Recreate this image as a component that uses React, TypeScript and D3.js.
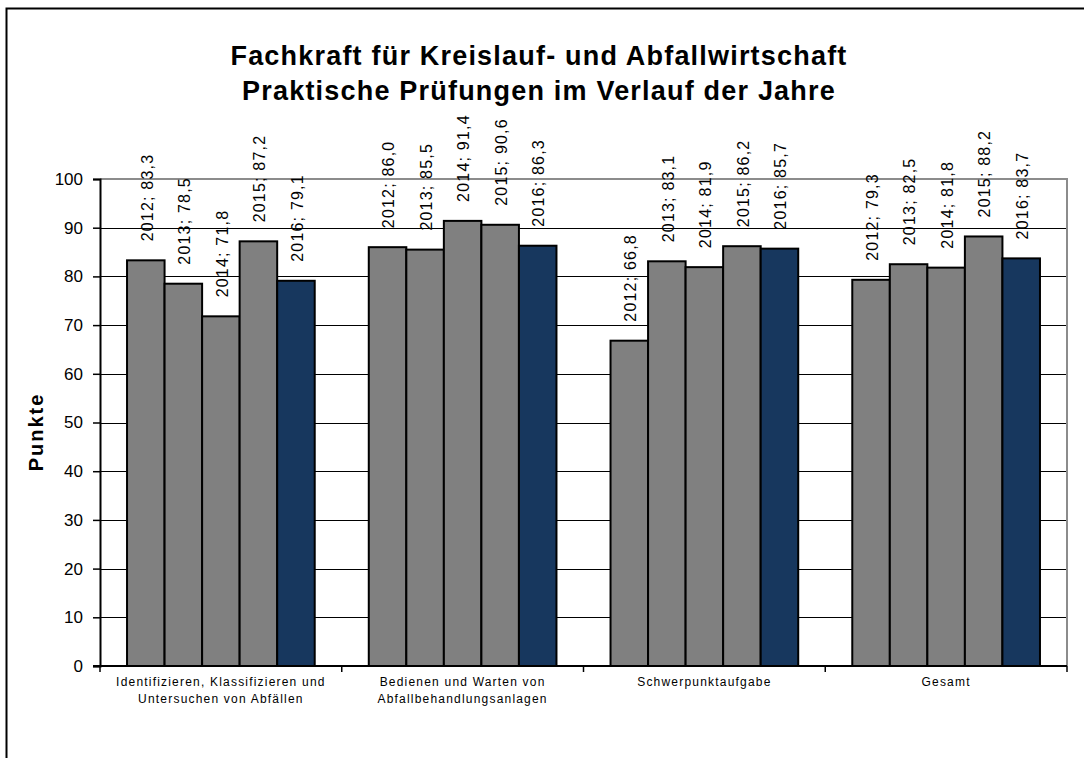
import * as d3 from "d3";
import { useEffect, useRef } from "react";

const categories = [
  ["Identifizieren, Klassifizieren und", "Untersuchen von Abfällen"],
  ["Bedienen und Warten von", "Abfallbehandlungsanlagen"],
  ["Schwerpunktaufgabe"],
  ["Gesamt"],
];
const years = ["2012", "2013", "2014", "2015", "2016"];
const values2012 = [83.3, 86.0, 66.8, 79.3];
const values2013 = [78.5, 85.5, 83.1, 82.5];
const values2014 = [71.8, 91.4, 81.9, 81.8];
const values2015 = [87.2, 90.6, 86.2, 88.2];
const values2016 = [79.1, 86.3, 85.7, 83.7];
const yTicks = [0, 10, 20, 30, 40, 50, 60, 70, 80, 90, 100];

const seriesValues = [values2012, values2013, values2014, values2015, values2016];

export default function App() {
  const svgRef = useRef<SVGSVGElement | null>(null);

  useEffect(() => {
    const width = 1084;
    const height = 758;
    const left = 100;
    const right = 1067;
    const top = 179;
    const bottom = 666;

    const svg = d3.select(svgRef.current);
    svg.selectAll("*").remove();
    const font = "'Liberation Sans', Arial, sans-serif";

    // outer frame (only top and left edges fall inside the picture)
    svg
      .append("rect")
      .attr("x", 6.5)
      .attr("y", 8.5)
      .attr("width", width + 20)
      .attr("height", height + 20)
      .attr("fill", "#fff")
      .attr("stroke", "#000")
      .attr("stroke-width", 2);

    // title
    const title = svg
      .append("text")
      .attr("text-anchor", "middle")
      .style("font-family", font)
      .style("font-weight", "bold")
      .style("font-size", "27px")
      .style("letter-spacing", "1.2px");
    title.append("tspan").attr("x", 539).attr("y", 65).text("Fachkraft für Kreislauf- und Abfallwirtschaft");
    title.append("tspan").attr("x", 539).attr("y", 100).text("Praktische Prüfungen im Verlauf der Jahre");

    const y = d3.scaleLinear().domain([0, 100]).range([bottom, top]);
    const x0 = d3
      .scaleBand<number>()
      .domain(categories.map((_, i) => i))
      .range([left, right]);
    const x1 = d3
      .scaleBand<string>()
      .domain(years)
      .range([0, x0.bandwidth()])
      .paddingInner(0)
      .paddingOuter(0.72);

    // gridlines
    svg
      .append("g")
      .selectAll("line")
      .data(yTicks.filter((t) => t > 0 && t < 100))
      .join("line")
      .attr("x1", left)
      .attr("x2", right)
      .attr("y1", (d) => Math.round(y(d)) + 0.5)
      .attr("y2", (d) => Math.round(y(d)) + 0.5)
      .attr("stroke", "#000")
      .attr("stroke-width", 1);

    // plot frame top/right (gray)
    svg
      .append("path")
      .attr("d", `M${left},${top} H${right} V${bottom}`)
      .attr("fill", "none")
      .attr("stroke", "#8c8c8c")
      .attr("stroke-width", 2);

    // bars
    const groups = svg
      .append("g")
      .selectAll("g")
      .data(categories.map((_, i) => i))
      .join("g")
      .attr("transform", (i) => `translate(${x0(i)},0)`);

    groups
      .selectAll("rect")
      .data((i) => years.map((yr, s) => ({ yr, s, v: seriesValues[s][i] })))
      .join("rect")
      .attr("x", (d) => x1(d.yr)!)
      .attr("y", (d) => y(d.v))
      .attr("width", x1.bandwidth())
      .attr("height", (d) => bottom - y(d.v))
      .attr("fill", (d) => (d.s === 4 ? "#17375e" : "#808080"))
      .attr("stroke", "#000")
      .attr("stroke-width", 2);

    // data labels
    groups
      .selectAll("text")
      .data((i) => years.map((yr, s) => ({ yr, s, v: seriesValues[s][i] })))
      .join("text")
      .attr(
        "transform",
        (d) => `translate(${x1(d.yr)! + x1.bandwidth() / 2 + 1},${y(d.v) - 19}) rotate(-90)`
      )
      .attr("dy", "0.36em")
      .style("font-family", font)
      .style("font-size", "16px")
      .style("letter-spacing", "1.2px")
      .attr("fill", "#000")
      .text((d) => `${d.yr}; ${d3.format(".1f")(d.v).replace(".", ",")}`);

    // y axis
    const yAxis = svg
      .append("g")
      .attr("transform", `translate(${left},0)`)
      .call(
        d3
          .axisLeft(y)
          .tickValues(yTicks)
          .tickSize(7)
          .tickPadding(10)
          .tickFormat((d) => `${d}`)
      );
    yAxis.select(".domain").attr("stroke", "#000").attr("stroke-width", 2);
    yAxis.selectAll(".tick line").attr("stroke", "#000").attr("stroke-width", 1.5);
    yAxis
      .selectAll(".tick text")
      .attr("fill", "#000")
      .style("font-family", font)
      .style("font-size", "17px");

    // x axis
    const xAxis = svg.append("g").attr("transform", `translate(0,${bottom})`);
    xAxis
      .append("line")
      .attr("x1", left - 7)
      .attr("x2", right)
      .attr("stroke", "#000")
      .attr("stroke-width", 2);
    xAxis
      .selectAll("line.tick")
      .data(d3.range(categories.length + 1))
      .join("line")
      .attr("class", "tick")
      .attr("x1", (i) => left + i * x0.bandwidth())
      .attr("x2", (i) => left + i * x0.bandwidth())
      .attr("y1", 0)
      .attr("y2", 6)
      .attr("stroke", "#000")
      .attr("stroke-width", 1.5);

    const catLabel = xAxis
      .selectAll("text")
      .data(categories.map((lines, i) => ({ lines, i })))
      .join("text")
      .attr("text-anchor", "middle")
      .style("font-family", font)
      .style("font-size", "12px")
      .style("letter-spacing", "1.2px")
      .attr("fill", "#000");
    catLabel
      .selectAll("tspan")
      .data((d) => d.lines.map((t, j) => ({ t, j, i: d.i })))
      .join("tspan")
      .attr("x", (d) => x0(d.i)! + x0.bandwidth() / 2)
      .attr("y", (d) => 20 + d.j * 17)
      .text((d) => d.t);

    // y axis title
    svg
      .append("text")
      .attr("transform", `translate(43,432) rotate(-90)`)
      .attr("text-anchor", "middle")
      .style("font-family", font)
      .style("font-weight", "bold")
      .style("font-size", "20px")
      .style("letter-spacing", "2px")
      .text("Punkte");
  }, []);

  return (
    <svg
      ref={svgRef}
      width={1084}
      height={758}
      style={{ position: "absolute", left: 0, top: 0, background: "#fff" }}
    />
  );
}
